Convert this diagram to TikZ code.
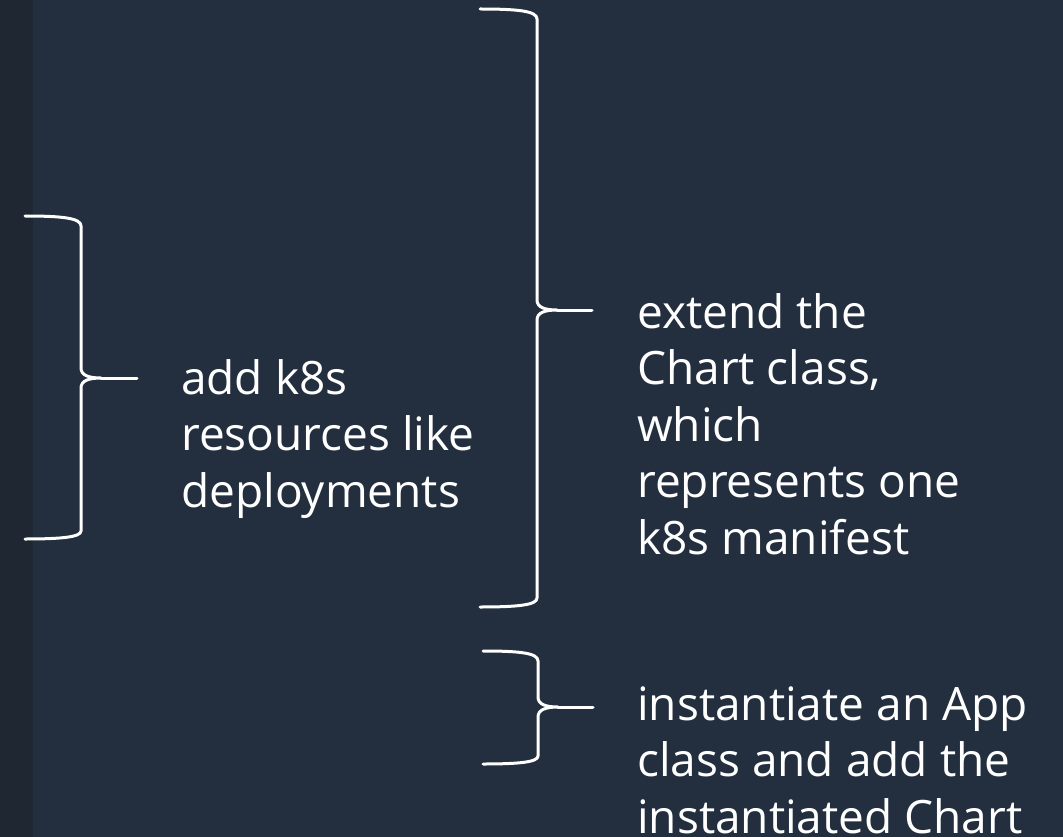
\documentclass[tikz,border=0pt]{standalone}
\usepackage{fontspec}
\setmainfont{Open Sans}
\usepackage{tikz}
\usetikzlibrary{positioning}

\definecolor{inkbg}{HTML}{232F3E}
\definecolor{inkstrip}{HTML}{1F2732}

\begin{document}
\begin{tikzpicture}[x=1pt,y=-1pt]
    \tikzstyle{every node}+=[inner sep=0pt]
    \tikzstyle{brace}=[white, line width=3pt, line cap=round, line join=round]
    \tikzstyle{note}=[white, anchor=base west, align=left,
        font=\fontsize{46}{56.5}\selectfont]
    % page
    \fill [inkbg] (0,0) rectangle (1063,837);
    \fill [inkstrip] (0,0) rectangle (33,837);
    \useasboundingbox (0,0) rectangle (1063,837);
    % left brace
    \draw [brace] (25,216) .. controls (62,216) and (81,218) .. (81,226) -- (81,368)
        .. controls (81,375) and (88,378) .. (101,378)
        .. controls (88,378) and (81,381) .. (81,388) -- (81,531)
        .. controls (81,537) and (62,539) .. (25,539);
    \draw [brace] (101,378) -- (137,378);
    % big brace
    \draw [brace] (480,9) .. controls (518,9) and (537,11) .. (537,19) -- (537,300)
        .. controls (537,307) and (544,310) .. (557,310)
        .. controls (544,310) and (537,313) .. (537,320) -- (537,598)
        .. controls (537,605) and (518,607) .. (480,607);
    \draw [brace] (557,310) -- (592,310);
    % small brace
    \draw [brace] (483,651) .. controls (520,651) and (538,653) .. (538,661) -- (538,697)
        .. controls (538,704) and (545,707) .. (558,707)
        .. controls (545,707) and (538,710) .. (538,717) -- (538,756)
        .. controls (538,762) and (520,764) .. (483,764);
    \draw [brace] (558,707) -- (593,707);
    % notes, placed by the baseline of their last line
    \node [note] (resources) at (181,507) {add k8s\\resources like\\deployments};
    \node [note] (chart) at (637,554) {extend the\\Chart class,\\which\\represents one\\k8s manifest};
    \node [note] (app) at (637,833) {instantiate an App\\class and add the\\instantiated Chart};
\end{tikzpicture}
\end{document}
